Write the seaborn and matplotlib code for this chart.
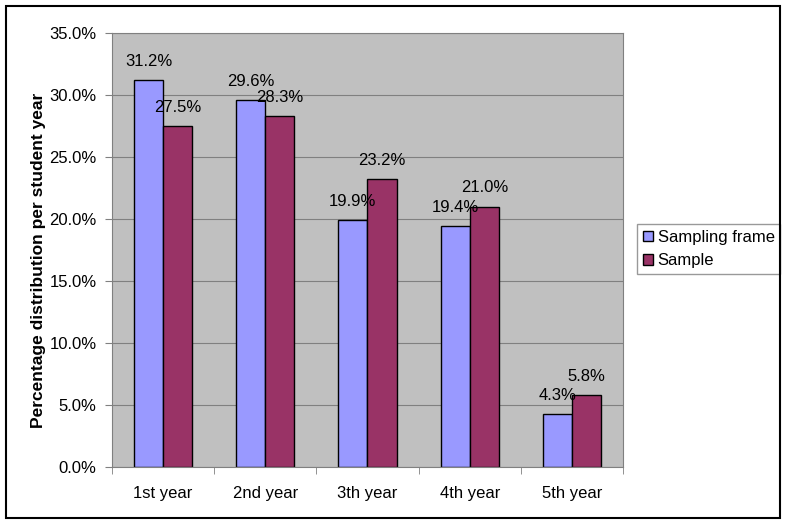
import pandas as pd
import numpy as np
import matplotlib.pyplot as plt
import seaborn as sns
from matplotlib.patches import Rectangle
from matplotlib.ticker import FuncFormatter, FixedLocator

years = ["1st year", "2nd year", "3th year", "4th year", "5th year"]
sampling_frame = [31.2, 29.6, 19.9, 19.4, 4.3]
sample = [27.5, 28.3, 23.2, 21.0, 5.8]
series = ["Sampling frame", "Sample"]

df = pd.DataFrame({
    "Year": years * 2,
    "Series": [series[0]] * len(years) + [series[1]] * len(years),
    "Value": sampling_frame + sample,
})

sns.set_style("white")
plt.rcParams["font.family"] = ["Liberation Sans", "DejaVu Sans"]
plt.rcParams["text.color"] = "black"
plt.rcParams["xtick.labelcolor"] = "black"
plt.rcParams["ytick.labelcolor"] = "black"
plt.rcParams["axes.labelcolor"] = "black"

fig = plt.figure(figsize=(7.85, 5.26), dpi=100)
ax = fig.add_axes([0.1427, 0.1122, 0.6509, 0.8251])

sns.barplot(data=df, x="Year", y="Value", hue="Series", order=years,
            hue_order=series, palette=["#9999FF", "#993366"], width=0.57,
            edgecolor="black", linewidth=1, saturation=1, ax=ax)

ax.set_facecolor("#C0C0C0")
ax.set_ylim(0, 35)
ax.set_xlim(-0.5, 4.5)
ax.set_yticks(np.arange(0, 35.1, 5))
ax.yaxis.set_major_formatter(FuncFormatter(lambda v, p: f"{v:.1f}%"))
ax.grid(axis="y", color="#808080", linewidth=0.8)
ax.set_axisbelow(True)
for s in ax.spines.values():
    s.set_color("#808080")
    s.set_linewidth(0.8)

ax.tick_params(axis="y", left=True, length=5, color="#808080", labelsize=12, pad=6)
ax.tick_params(axis="x", bottom=False, labelsize=12, pad=10)
ax.xaxis.set_minor_locator(FixedLocator(np.arange(-0.5, 4.6, 1)))
ax.tick_params(axis="x", which="minor", bottom=True, length=5, color="#808080")

ax.set_xlabel("")
ax.set_ylabel("Percentage distribution per student year", fontsize=12.5,
              fontweight="bold")
ax.yaxis.set_label_coords(-0.13, 0.475)

for c in ax.containers:
    ax.bar_label(c, fmt="%.1f%%", fontsize=12, padding=8)

ax.legend(loc="upper left", bbox_to_anchor=(1.027, 0.56), frameon=True,
          fancybox=False, edgecolor="#808080", fontsize=12,
          handlelength=0.6, handleheight=0.6, handletextpad=0.3,
          borderpad=0.35, labelspacing=0.5, borderaxespad=0)

fig.patches.append(Rectangle((6 / 785, 8 / 526), 774 / 785, 512 / 526,
                             transform=fig.transFigure, fill=False,
                             edgecolor="black", linewidth=1.5))

fig.savefig("out.png", dpi=100)
